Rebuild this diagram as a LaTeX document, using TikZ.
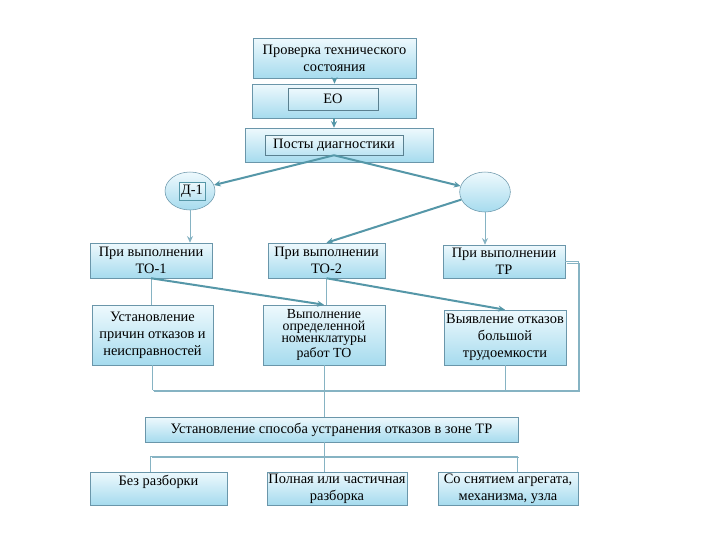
\documentclass[tikz,border=0pt]{standalone}
\usepackage{fontspec}
\setmainfont{Liberation Serif}
\usetikzlibrary{arrows.meta,shapes.geometric}
\definecolor{boxtop}{HTML}{EEF9FD}
\definecolor{boxbot}{HTML}{A6DBEE}
\definecolor{boxline}{HTML}{6A96AA}
\definecolor{wirec}{HTML}{86B3C3}
\definecolor{flowc}{HTML}{5597A8}

\begin{document}
\begin{tikzpicture}[x=0.75pt,y=-0.75pt,font=\fontsize{10.8}{12.7}\selectfont,>={Stealth[length=5pt,width=4.5pt]},
  blk/.style={draw=boxline,top color=boxtop,bottom color=boxbot,align=center,inner sep=1pt},
  inblk/.style={draw=boxline!85!black,top color=boxtop,bottom color=boxbot!70!boxtop,inner sep=1pt},
  ovl/.style={ellipse,draw=boxline,top color=boxtop,bottom color=boxbot,inner sep=0pt},
  wire/.style={draw=wirec,line width=.7pt},
  wire2/.style={wire,transform canvas={xshift=1.2pt,yshift=-1.2pt}},
  flowarr/.style={draw=flowc,line width=1.5pt,->}]
  \fill[white] (0,0) rectangle (720,540);
  % top chain
  \node[blk,minimum width=122pt,minimum height=30pt] (check) at (334.5,58) {Проверка технического\\состояния};
  \node[blk,minimum width=123pt,minimum height=25.5pt] (eo) at (334,101) {};
  \node[inblk,minimum width=67.5pt,minimum height=16.5pt] (eoin) at (333,99) {ЕО};
  \node[blk,minimum width=141pt,minimum height=25.5pt] (posts) at (339,145) {};
  \node[inblk,minimum width=103.5pt,minimum height=15pt] (postsin) at (334,145) {Посты диагностики};
  \draw[flowarr] (check.south) -- (check.south |- eo.north);
  \draw[flowarr] (eo.south) -- (eo.south |- posts.north);
  % diagnostics
  \node[ovl,minimum width=37.5pt,minimum height=28.5pt] (d1) at (190,191) {};
  \node[inblk,draw=flowc,minimum width=19.5pt,minimum height=13.5pt] (d1in) at (192,191) {Д-1};
  \node[ovl,minimum width=38pt,minimum height=30pt] (d2) at (485,192) {};
  \draw[flowarr] (postsin.south) -- (d1);
  \draw[flowarr] (postsin.south) -- (d2);
  % maintenance kinds
  \node[blk,minimum width=91.5pt,minimum height=26.25pt] (to1) at (151,260.5) {При выполнении\\ТО-1};
  \node[blk,minimum width=87.75pt,minimum height=26.25pt] (to2) at (326.5,260.5) {При выполнении\\ТО-2};
  \node[blk,minimum width=91.5pt,minimum height=24.75pt] (tr) at (504,261.5) {При выполнении\\ТР};
  \draw[wire,->] (d1.south) -- (d1.south |- to1.north);
  \draw[wire,->] (d2.south) -- (d2.south |- tr.north);
  \draw[flowarr] (d2) -- (to2.north);
  % works
  \node[blk,minimum width=90.75pt,minimum height=45pt] (ust) at (152.5,335) {Установление\\причин отказов и\\неисправностей};
  \node[blk,minimum width=91.5pt,minimum height=45pt,font=\fontsize{10.4}{9}\selectfont] (vyp) at (324,335) {Выполнение\\определенной\\номенклатуры\\работ ТО};
  \node[blk,minimum width=91.5pt,minimum height=41.25pt] (vyv) at (505,337.5) {Выявление отказов\\большой\\трудоемкости};
  \draw[wire] (to1.south) -- (to1.south |- ust.north);
  \draw[wire] (to2.south) -- (to2.south |- vyp.north);
  \draw[flowarr] (to1.south) -- (vyp.north);
  \draw[flowarr] (to2.south) -- (vyv.north);
  % collecting bus
  \coordinate (busL) at (148,390);
  \coordinate (busR) at (578,390);
  \node[blk,minimum width=279.75pt,minimum height=18.75pt] (sposob) at (331.5,429.5) {Установление способа устранения отказов в зоне ТР};
  \draw[wire] (ust.south) -- (ust.south |- busL);
  \draw[wire] (vyv.south) -- (vyv.south |- busL);
  \draw[wire] (tr.east) -| (busR) -- (ust.south |- busL);
  \draw[wire2] (tr.east) -| (busR) -- (ust.south |- busL);
  \draw[wire] (vyp.south) -- (vyp.south |- sposob.north);
  % repair methods
  \node[blk,minimum width=102.75pt,minimum height=24.75pt] (bez) at (158.5,488.5) {Без разборки\\\mbox{}};
  \node[blk,minimum width=105pt,minimum height=24.75pt] (poln) at (337,488.5) {Полная или частичная\\разборка};
  \node[blk,minimum width=105pt,minimum height=24.75pt] (snyat) at (508,488.5) {Со снятием агрегата,\\механизма, узла};
  \coordinate (bus2) at (0,456);
  \draw[wire] (vyp.south |- sposob.south) -- (vyp.south |- poln.north);
  \draw[wire] ([xshift=-6pt]bez.north |- bus2) -- ([xshift=-6pt]bez.north);
  \draw[wire] ([xshift=7pt]snyat.north |- bus2) -- ([xshift=7pt]snyat.north);
  \draw[wire] ([xshift=-6pt]bez.north |- bus2) -- ([xshift=7pt]snyat.north |- bus2);
  \draw[wire2] ([xshift=-6pt]bez.north |- bus2) -- ([xshift=7pt]snyat.north |- bus2);
\end{tikzpicture}
\end{document}
